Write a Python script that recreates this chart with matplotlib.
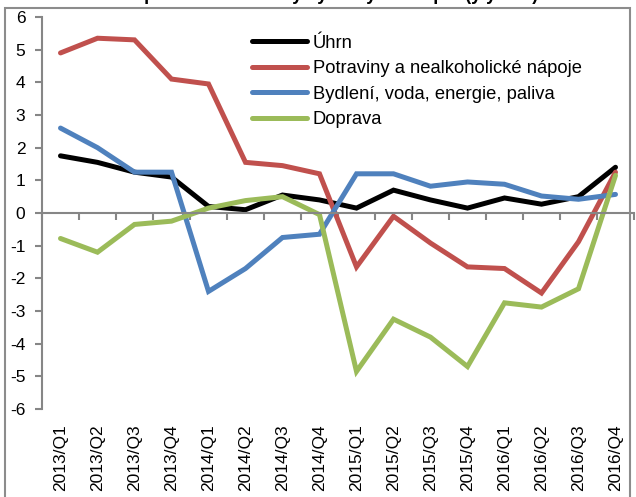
import matplotlib.pyplot as plt
from matplotlib.patches import Rectangle
import numpy as np

plt.rcParams['font.family'] = ['Liberation Sans', 'DejaVu Sans']
plt.rcParams['axes.unicode_minus'] = False

kvartaly = ['2013/Q1', '2013/Q2', '2013/Q3', '2013/Q4',
            '2014/Q1', '2014/Q2', '2014/Q3', '2014/Q4',
            '2015/Q1', '2015/Q2', '2015/Q3', '2015/Q4',
            '2016/Q1', '2016/Q2', '2016/Q3', '2016/Q4']

uhrn = [1.75, 1.55, 1.25, 1.1, 0.2, 0.1, 0.55, 0.4,
        0.15, 0.7, 0.4, 0.15, 0.46, 0.27, 0.5, 1.4]
potraviny = [4.9, 5.35, 5.3, 4.1, 3.95, 1.55, 1.45, 1.2,
             -1.65, -0.1, -0.92, -1.65, -1.7, -2.45, -0.88, 1.25]
bydleni = [2.6, 2.0, 1.25, 1.25, -2.4, -1.7, -0.75, -0.65,
           1.2, 1.2, 0.82, 0.95, 0.88, 0.52, 0.42, 0.57]
doprava = [-0.78, -1.2, -0.35, -0.25, 0.15, 0.38, 0.5, -0.05,
           -4.85, -3.25, -3.8, -4.7, -2.75, -2.88, -2.32, 1.15]

serie = [
    ('Úhrn', uhrn, '#000000'),
    ('Potraviny a nealkoholické nápoje', potraviny, '#C0504D'),
    ('Bydlení, voda, energie, paliva', bydleni, '#4F81BD'),
    ('Doprava', doprava, '#9BBB59'),
]

fig = plt.figure(figsize=(6.36, 4.97), dpi=100)
ax = fig.add_axes([42 / 636, 88 / 497, 592 / 636, 392 / 497])

x = np.arange(len(kvartaly))
for nazev, hodnoty, barva in serie:
    ax.plot(x, hodnoty, color=barva, lw=3.6, label=nazev,
            solid_joinstyle='miter', solid_capstyle='round')

ax.set_xlim(-0.5, len(kvartaly) - 0.5)
ax.set_ylim(-6, 6)
ax.set_yticks(np.arange(-6, 7, 1))

seda = '#868686'
for s in ['top', 'right']:
    ax.spines[s].set_visible(False)
ax.spines['left'].set_color(seda)
ax.spines['left'].set_linewidth(1.5)
ax.spines['bottom'].set_position(('data', 0))
ax.spines['bottom'].set_color(seda)
ax.spines['bottom'].set_linewidth(1.5)

# ticky na ose x mezi kategoriemi, popisky dole
ax.set_xticks(np.arange(-0.5, len(kvartaly), 1))
ax.tick_params(axis='x', length=5, width=1.5, color=seda, labelbottom=False)
ax.tick_params(axis='y', length=5, width=1.5, color=seda, labelsize=12.5, pad=7)

sec = ax.secondary_xaxis('bottom')
sec.spines['bottom'].set_visible(False)
sec.set_xticks(x)
sec.set_xticklabels(kvartaly, rotation=90, fontsize=12.5)
sec.tick_params(length=0, pad=11)

ax.legend(loc='upper left', bbox_to_anchor=(0.355, 0.955), frameon=False,
          fontsize=13.2, handlelength=3.0, handletextpad=0.3, labelspacing=0.47,
          borderaxespad=0, borderpad=0)

fig.text(0.527, 0.999, 'Spotřebitelské ceny vybraných skupin (y/y v %)',
         ha='center', va='baseline', fontsize=13, fontweight='bold')

fig.patches.append(Rectangle((5 / 636, -0.02), 625 / 636, (497 - 8) / 497 + 0.02,
                             transform=fig.transFigure, fill=False,
                             edgecolor='#8c8c8c', lw=1.5))

fig.savefig('out.png', dpi=100)
